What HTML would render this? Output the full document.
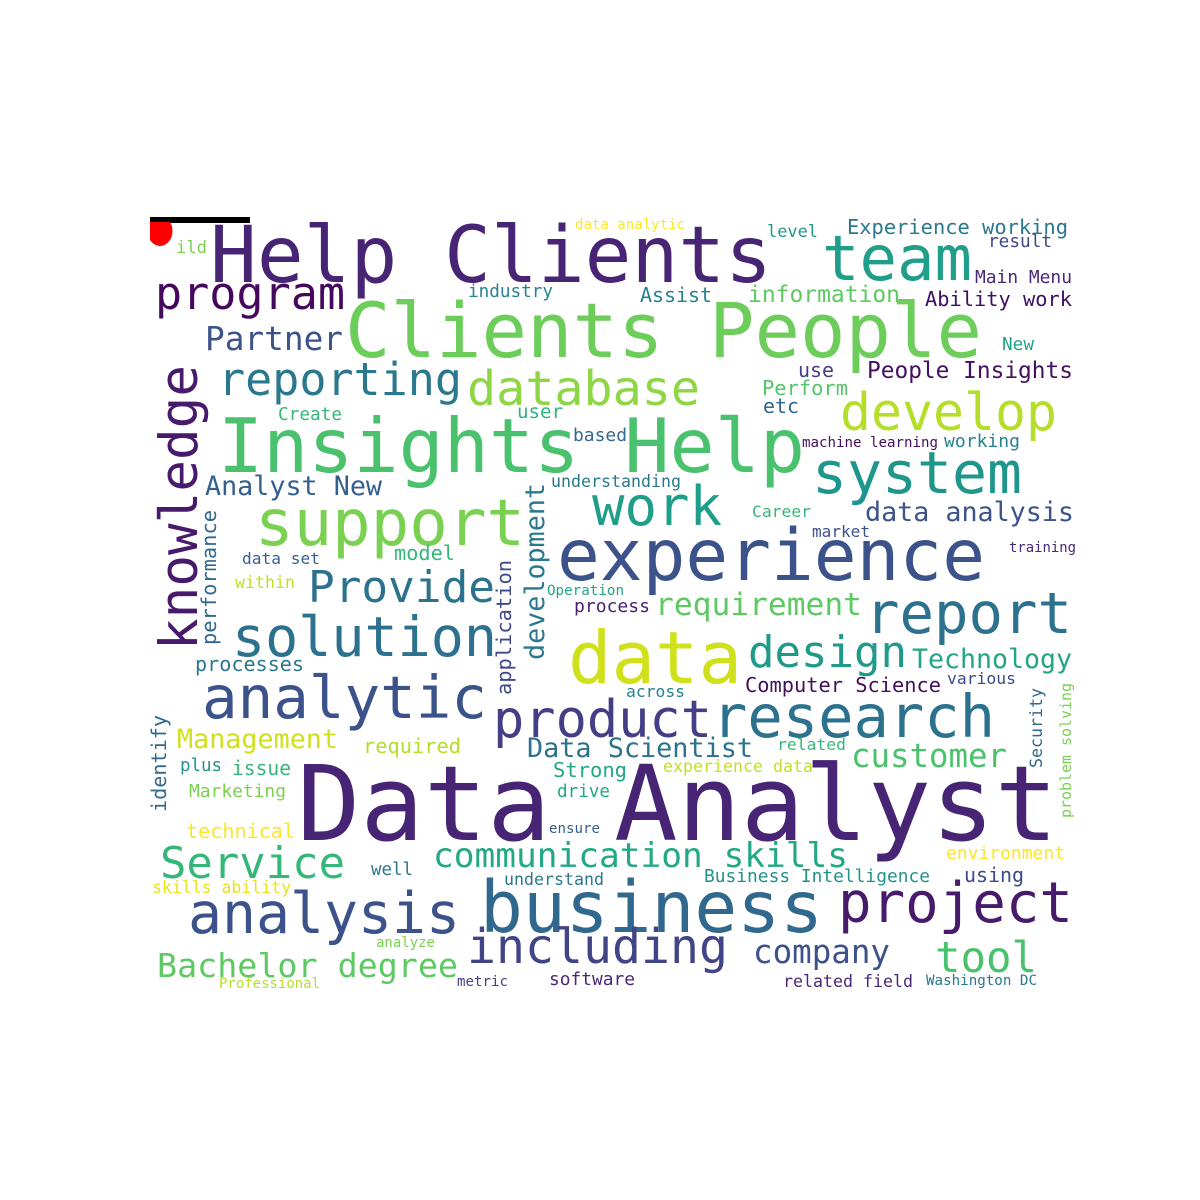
<!DOCTYPE html>
<html><head><meta charset="utf-8"><title>Word Cloud</title>
<style>
html,body{margin:0;padding:0;background:#fff;}
svg{display:block;}
text{font-family:"DejaVu Sans Mono","Liberation Mono",monospace;}
</style></head>
<body>
<svg width="1200" height="1200" viewBox="0 0 1200 1200" xmlns="http://www.w3.org/2000/svg">
<rect x="0" y="0" width="1200" height="1200" fill="#ffffff"/>
<g>
<rect x="150" y="217" width="100" height="6" fill="#000"/>
<path d="M150 222 L170 222 A10 12 0 0 1 150 240 Z" fill="#ff0000"/>
</g>
<g lengthAdjust="spacingAndGlyphs">
<text x="210" y="282" font-size="78" fill="#482475" textLength="562" lengthAdjust="spacingAndGlyphs">Help Clients</text>
<text x="822" y="280" font-size="62" fill="#1f9e89" textLength="150" lengthAdjust="spacingAndGlyphs">team</text>
<text x="155" y="309" font-size="45" fill="#46085c" textLength="190" lengthAdjust="spacingAndGlyphs">program</text>
<text x="345" y="357" font-size="76" fill="#6ccd5a" textLength="637" lengthAdjust="spacingAndGlyphs">Clients People</text>
<text x="205" y="350" font-size="33" fill="#3b528b" textLength="138" lengthAdjust="spacingAndGlyphs">Partner</text>
<text x="218" y="395" font-size="45" fill="#2a788e" textLength="244" lengthAdjust="spacingAndGlyphs">reporting</text>
<text x="467" y="405" font-size="48" fill="#8ed645" textLength="233" lengthAdjust="spacingAndGlyphs">database</text>
<text x="0" y="0" font-size="53" fill="#481a6c" textLength="285" lengthAdjust="spacingAndGlyphs" transform="translate(197,650) rotate(-90)">knowledge</text>
<text x="840" y="430" font-size="52" fill="#b5de2b" textLength="217" lengthAdjust="spacingAndGlyphs">develop</text>
<text x="218" y="472" font-size="75" fill="#4ac16d" textLength="587" lengthAdjust="spacingAndGlyphs">Insights Help</text>
<text x="812" y="493" font-size="58" fill="#1f968b" textLength="210" lengthAdjust="spacingAndGlyphs">system</text>
<text x="205" y="495" font-size="27" fill="#355f8d" textLength="177" lengthAdjust="spacingAndGlyphs">Analyst New</text>
<text x="278" y="420" font-size="18" fill="#35b779" textLength="64" lengthAdjust="spacingAndGlyphs">Create</text>
<text x="517" y="418" font-size="19" fill="#2eb37c" textLength="46" lengthAdjust="spacingAndGlyphs">user</text>
<text x="573" y="441" font-size="18" fill="#31688e" textLength="54" lengthAdjust="spacingAndGlyphs">based</text>
<text x="468" y="297" font-size="18" fill="#26828e" textLength="85" lengthAdjust="spacingAndGlyphs">industry</text>
<text x="575" y="229" font-size="14" fill="#fde725" textLength="110" lengthAdjust="spacingAndGlyphs">data analytic</text>
<text x="767" y="237" font-size="17" fill="#1f9a8a" textLength="51" lengthAdjust="spacingAndGlyphs">level</text>
<text x="847" y="234" font-size="20" fill="#2a788e" textLength="221" lengthAdjust="spacingAndGlyphs">Experience working</text>
<text x="988" y="247" font-size="18" fill="#3e4989" textLength="64" lengthAdjust="spacingAndGlyphs">result</text>
<text x="975" y="283" font-size="18" fill="#482878" textLength="97" lengthAdjust="spacingAndGlyphs">Main Menu</text>
<text x="640" y="302" font-size="20" fill="#26828e" textLength="72" lengthAdjust="spacingAndGlyphs">Assist</text>
<text x="748" y="302" font-size="23" fill="#5ec962" textLength="152" lengthAdjust="spacingAndGlyphs">information</text>
<text x="925" y="306" font-size="20" fill="#3f0f5f" textLength="147" lengthAdjust="spacingAndGlyphs">Ability work</text>
<text x="1002" y="350" font-size="18" fill="#20a486" textLength="32" lengthAdjust="spacingAndGlyphs">New</text>
<text x="798" y="377" font-size="20" fill="#433e85" textLength="36" lengthAdjust="spacingAndGlyphs">use</text>
<text x="867" y="378" font-size="23" fill="#440f5e" textLength="206" lengthAdjust="spacingAndGlyphs">People Insights</text>
<text x="762" y="395" font-size="20" fill="#54c568" textLength="86" lengthAdjust="spacingAndGlyphs">Perform</text>
<text x="763" y="413" font-size="20" fill="#31688e" textLength="36" lengthAdjust="spacingAndGlyphs">etc</text>
<text x="802" y="447" font-size="14" fill="#440f5e" textLength="136" lengthAdjust="spacingAndGlyphs">machine learning</text>
<text x="944" y="447" font-size="18" fill="#26828e" textLength="76" lengthAdjust="spacingAndGlyphs">working</text>
<text x="551" y="487" font-size="17" fill="#2a788e" textLength="130" lengthAdjust="spacingAndGlyphs">understanding</text>
<text x="752" y="517" font-size="16" fill="#35b779" textLength="59" lengthAdjust="spacingAndGlyphs">Career</text>
<text x="865" y="521" font-size="27" fill="#3b528b" textLength="209" lengthAdjust="spacingAndGlyphs">data analysis</text>
<text x="812" y="537" font-size="16" fill="#3b528b" textLength="58" lengthAdjust="spacingAndGlyphs">market</text>
<text x="1009" y="552" font-size="14" fill="#482878" textLength="67" lengthAdjust="spacingAndGlyphs">training</text>
<text x="255" y="545" font-size="64" fill="#7ad151" textLength="270" lengthAdjust="spacingAndGlyphs">support</text>
<text x="592" y="525" font-size="54" fill="#1f9e89" textLength="130" lengthAdjust="spacingAndGlyphs">work</text>
<text x="557" y="580" font-size="71" fill="#3b528b" textLength="428" lengthAdjust="spacingAndGlyphs">experience</text>
<text x="0" y="0" font-size="27" fill="#2a788e" textLength="177" lengthAdjust="spacingAndGlyphs" transform="translate(544,660) rotate(-90)">development</text>
<text x="0" y="0" font-size="20" fill="#3e4989" textLength="135" lengthAdjust="spacingAndGlyphs" transform="translate(511,695) rotate(-90)">application</text>
<text x="0" y="0" font-size="20" fill="#31688e" textLength="135" lengthAdjust="spacingAndGlyphs" transform="translate(216,645) rotate(-90)">performance</text>
<text x="242" y="564" font-size="16" fill="#355f8d" textLength="78" lengthAdjust="spacingAndGlyphs">data set</text>
<text x="394" y="560" font-size="20" fill="#35b779" textLength="61" lengthAdjust="spacingAndGlyphs">model</text>
<text x="235" y="588" font-size="17" fill="#c2df23" textLength="60" lengthAdjust="spacingAndGlyphs">within</text>
<text x="308" y="602" font-size="44" fill="#2c728e" textLength="187" lengthAdjust="spacingAndGlyphs">Provide</text>
<text x="547" y="595" font-size="14" fill="#21a585" textLength="77" lengthAdjust="spacingAndGlyphs">Operation</text>
<text x="574" y="612" font-size="18" fill="#481f70" textLength="76" lengthAdjust="spacingAndGlyphs">process</text>
<text x="655" y="615" font-size="31" fill="#5ec962" textLength="207" lengthAdjust="spacingAndGlyphs">requirement</text>
<text x="865" y="633" font-size="57" fill="#2c728e" textLength="207" lengthAdjust="spacingAndGlyphs">report</text>
<text x="232" y="656" font-size="55" fill="#2c728e" textLength="265" lengthAdjust="spacingAndGlyphs">solution</text>
<text x="568" y="683" font-size="72" fill="#d0e11c" textLength="174" lengthAdjust="spacingAndGlyphs">data</text>
<text x="748" y="667" font-size="44" fill="#1f9a8a" textLength="159" lengthAdjust="spacingAndGlyphs">design</text>
<text x="912" y="668" font-size="27" fill="#21a585" textLength="160" lengthAdjust="spacingAndGlyphs">Technology</text>
<text x="195" y="671" font-size="20" fill="#2a788e" textLength="109" lengthAdjust="spacingAndGlyphs">processes</text>
<text x="202" y="718" font-size="59" fill="#3b528b" textLength="285" lengthAdjust="spacingAndGlyphs">analytic</text>
<text x="947" y="684" font-size="16" fill="#3e4989" textLength="69" lengthAdjust="spacingAndGlyphs">various</text>
<text x="745" y="692" font-size="20" fill="#440f5e" textLength="196" lengthAdjust="spacingAndGlyphs">Computer Science</text>
<text x="626" y="697" font-size="16" fill="#26828e" textLength="59" lengthAdjust="spacingAndGlyphs">across</text>
<text x="493" y="737" font-size="52" fill="#433e85" textLength="219" lengthAdjust="spacingAndGlyphs">product</text>
<text x="712" y="737" font-size="59" fill="#2c728e" textLength="283" lengthAdjust="spacingAndGlyphs">research</text>
<text x="0" y="0" font-size="17" fill="#31688e" textLength="80" lengthAdjust="spacingAndGlyphs" transform="translate(1042,768) rotate(-90)">Security</text>
<text x="0" y="0" font-size="15" fill="#7ad151" textLength="135" lengthAdjust="spacingAndGlyphs" transform="translate(1071,818) rotate(-90)">problem solving</text>
<text x="0" y="0" font-size="20" fill="#31688e" textLength="97" lengthAdjust="spacingAndGlyphs" transform="translate(166,812) rotate(-90)">identify</text>
<text x="177" y="748" font-size="27" fill="#d0e11c" textLength="161" lengthAdjust="spacingAndGlyphs">Management</text>
<text x="363" y="753" font-size="20" fill="#b5de2b" textLength="98" lengthAdjust="spacingAndGlyphs">required</text>
<text x="527" y="757" font-size="27" fill="#2c728e" textLength="226" lengthAdjust="spacingAndGlyphs">Data Scientist</text>
<text x="777" y="750" font-size="16" fill="#35b779" textLength="69" lengthAdjust="spacingAndGlyphs">related</text>
<text x="851" y="767" font-size="33" fill="#4ac16d" textLength="156" lengthAdjust="spacingAndGlyphs">customer</text>
<text x="180" y="771" font-size="18" fill="#21918c" textLength="42" lengthAdjust="spacingAndGlyphs">plus</text>
<text x="232" y="775" font-size="20" fill="#35b779" textLength="59" lengthAdjust="spacingAndGlyphs">issue</text>
<text x="553" y="777" font-size="20" fill="#22a884" textLength="74" lengthAdjust="spacingAndGlyphs">Strong</text>
<text x="663" y="772" font-size="17" fill="#c2df23" textLength="150" lengthAdjust="spacingAndGlyphs">experience data</text>
<text x="189" y="797" font-size="18" fill="#7ad151" textLength="97" lengthAdjust="spacingAndGlyphs">Marketing</text>
<text x="557" y="797" font-size="18" fill="#22a884" textLength="53" lengthAdjust="spacingAndGlyphs">drive</text>
<text x="297" y="840" font-size="104" fill="#482475" textLength="761" lengthAdjust="spacingAndGlyphs">Data Analyst</text>
<text x="186" y="838" font-size="20" fill="#fde725" textLength="109" lengthAdjust="spacingAndGlyphs">technical</text>
<text x="549" y="833" font-size="14" fill="#355f8d" textLength="51" lengthAdjust="spacingAndGlyphs">ensure</text>
<text x="946" y="859" font-size="18" fill="#fde725" textLength="119" lengthAdjust="spacingAndGlyphs">environment</text>
<text x="160" y="878" font-size="44" fill="#35b779" textLength="185" lengthAdjust="spacingAndGlyphs">Service</text>
<text x="433" y="867" font-size="34" fill="#22a884" textLength="415" lengthAdjust="spacingAndGlyphs">communication skills</text>
<text x="371" y="875" font-size="18" fill="#2a788e" textLength="42" lengthAdjust="spacingAndGlyphs">well</text>
<text x="704" y="882" font-size="18" fill="#21918c" textLength="226" lengthAdjust="spacingAndGlyphs">Business Intelligence</text>
<text x="964" y="882" font-size="20" fill="#3e4989" textLength="60" lengthAdjust="spacingAndGlyphs">using</text>
<text x="504" y="885" font-size="17" fill="#2a788e" textLength="100" lengthAdjust="spacingAndGlyphs">understand</text>
<text x="152" y="893" font-size="17" fill="#e8e419" textLength="139" lengthAdjust="spacingAndGlyphs">skills ability</text>
<text x="188" y="933" font-size="57" fill="#3b528b" textLength="272" lengthAdjust="spacingAndGlyphs">analysis</text>
<text x="480" y="932" font-size="71" fill="#31688e" textLength="343" lengthAdjust="spacingAndGlyphs">business</text>
<text x="838" y="922" font-size="56" fill="#481a6c" textLength="235" lengthAdjust="spacingAndGlyphs">project</text>
<text x="467" y="963" font-size="48" fill="#414487" textLength="261" lengthAdjust="spacingAndGlyphs">including</text>
<text x="753" y="963" font-size="33" fill="#3b528b" textLength="137" lengthAdjust="spacingAndGlyphs">company</text>
<text x="935" y="972" font-size="43" fill="#4ac16d" textLength="102" lengthAdjust="spacingAndGlyphs">tool</text>
<text x="157" y="977" font-size="33" fill="#5ec962" textLength="301" lengthAdjust="spacingAndGlyphs">Bachelor degree</text>
<text x="376" y="947" font-size="14" fill="#7ad151" textLength="59" lengthAdjust="spacingAndGlyphs">analyze</text>
<text x="219" y="988" font-size="14" fill="#b5de2b" textLength="101" lengthAdjust="spacingAndGlyphs">Professional</text>
<text x="457" y="986" font-size="14" fill="#433e85" textLength="51" lengthAdjust="spacingAndGlyphs">metric</text>
<text x="549" y="985" font-size="18" fill="#482878" textLength="86" lengthAdjust="spacingAndGlyphs">software</text>
<text x="783" y="987" font-size="17" fill="#482878" textLength="130" lengthAdjust="spacingAndGlyphs">related field</text>
<text x="926" y="985" font-size="14" fill="#2a788e" textLength="111" lengthAdjust="spacingAndGlyphs">Washington DC</text>
<text x="176" y="253" font-size="17" fill="#7ad151" textLength="31" lengthAdjust="spacingAndGlyphs">ild</text>
</g>
</svg>
</body></html>
